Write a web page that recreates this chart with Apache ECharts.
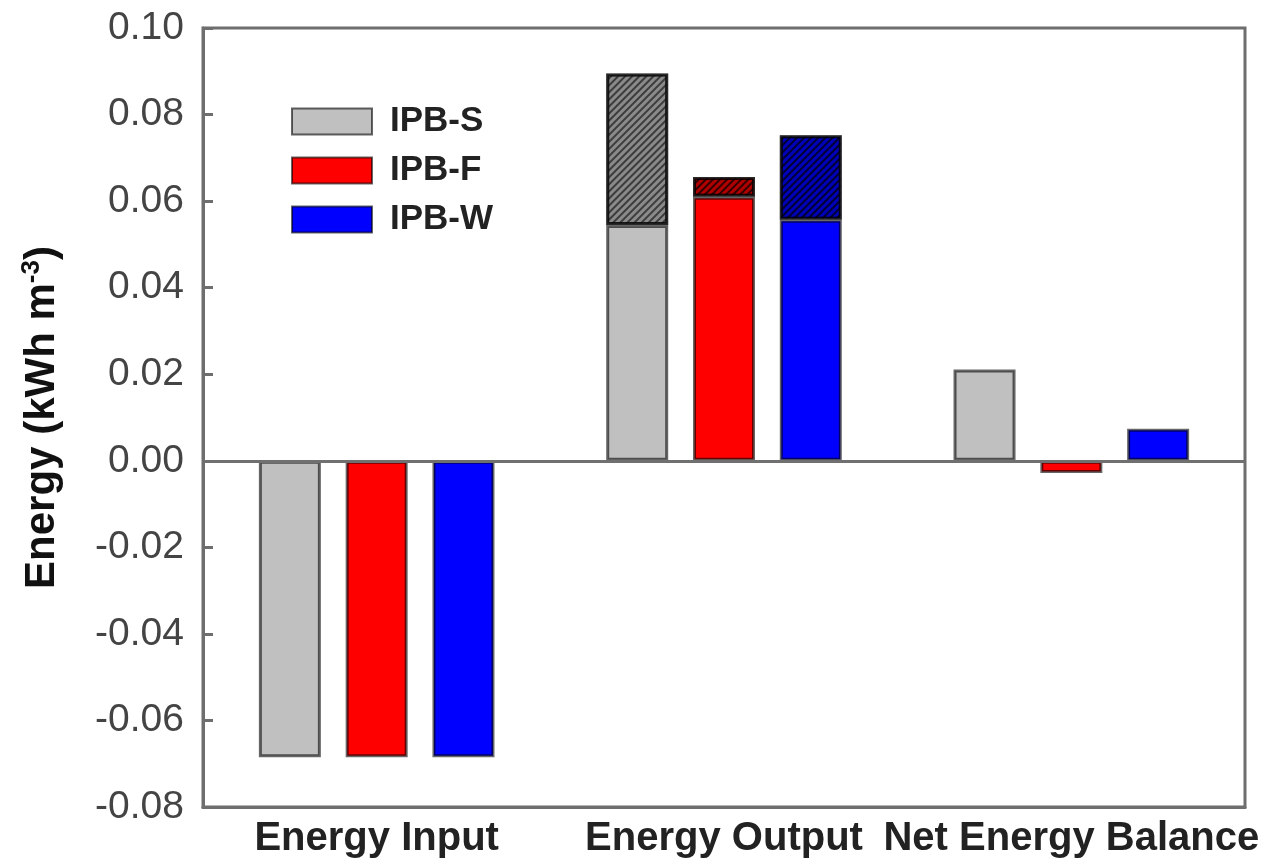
<!DOCTYPE html>
<html>
<head>
<meta charset="utf-8">
<script src="https://cdn.jsdelivr.net/npm/echarts@6/dist/echarts.min.js"></script>
<style>
  html, body { margin: 0; padding: 0; background: #fff; }
  #chart { width: 1272px; height: 867px; }
</style>
</head>
<body>
<div id="chart"></div>
<script>
// categories and values (kWh m-3)
const categories = ['Energy Input', 'Energy Output', 'Net Energy Balance'];
const seriesNames = ['IPB-S', 'IPB-F', 'IPB-W'];
const solidS = [-0.0685, 0.0545, 0.0211];
const hatchS = [null, 0.0350, null];
const solidF = [-0.0685, 0.0610, -0.0028];
const hatchF = [null, 0.0046, null];
const solidW = [-0.0685, 0.0557, 0.0074];
const hatchW = [null, 0.0195, null];
const yTicks = { min: -0.08, max: 0.10, step: 0.02 };

const FONT = '"Liberation Sans", Arial, sans-serif';
const EDGE = 'rgba(0,0,0,0.6)';
const BAR_W = 62;

function hatch(lineColor) {
  return {
    symbol: 'rect',
    dashArrayX: [1, 0],
    dashArrayY: [2, 2.5],
    rotation: -Math.PI / 4,
    color: lineColor,
    symbolSize: 1
  };
}

function solidBar(name, stack, color, data) {
  return {
    name: name,
    type: 'bar',
    stack: stack,
    barWidth: BAR_W,
    barGap: '40%',
    itemStyle: { color: color, borderColor: EDGE, borderWidth: 3 },
    data: data
  };
}

function hatchBar(name, stack, color, lineColor, data) {
  return {
    name: name,
    type: 'bar',
    stack: stack,
    barWidth: BAR_W,
    barGap: '40%',
    itemStyle: { color: color, borderColor: EDGE, borderWidth: 3, decal: hatch(lineColor) },
    data: data
  };
}

const chart = echarts.init(document.getElementById('chart'));
const sBar = solidBar(seriesNames[0], 'S', '#c0c0c0', solidS);
sBar.markLine = {
  silent: true,
  symbol: ['none', 'none'],
  label: { show: false },
  lineStyle: { color: '#707070', width: 3, type: 'solid' },
  data: [{ yAxis: 0 }]
};

chart.setOption({
  animation: false,
  aria: { enabled: false },
  grid: {
    left: 203, right: 27, top: 28, bottom: 60,
    show: true, borderColor: '#6e6e6e', borderWidth: 3,
    containLabel: false, outerBoundsMode: 'none'
  },
  legend: {
    data: seriesNames,
    orient: 'vertical',
    left: 286, top: 99,
    itemWidth: 80, itemHeight: 26, itemGap: 14,
    icon: 'rect',
    textStyle: { fontFamily: FONT, fontSize: 35, fontWeight: 'bold', color: '#222', lineHeight: 34, padding: [0, 0, 0, 13] }
  },
  xAxis: {
    type: 'category',
    data: categories,
    axisLine: { onZero: false, lineStyle: { color: '#6e6e6e', width: 3 } },
    axisTick: { show: false },
    axisLabel: { fontFamily: FONT, fontSize: 40, fontWeight: 'bold', color: '#222', margin: 12, interval: 0 }
  },
  yAxis: {
    type: 'value',
    min: yTicks.min, max: yTicks.max, interval: yTicks.step,
    name: '{a|Energy (kWh m}{s|-3}{a|)}',
    nameLocation: 'middle',
    nameGap: 140,
    nameRotate: 90,
    nameTextStyle: {
      rich: {
        a: { fontFamily: FONT, fontSize: 42, fontWeight: 'bold', color: '#111', lineHeight: 44, verticalAlign: 'bottom' },
        s: { fontFamily: FONT, fontSize: 26, fontWeight: 'bold', color: '#111', lineHeight: 44, verticalAlign: 'top' }
      }
    },
    splitLine: { show: false },
    axisLine: { show: true, lineStyle: { color: '#6e6e6e', width: 3 } },
    axisTick: { show: true, inside: true, length: 10, lineStyle: { color: '#6e6e6e', width: 3 } },
    axisLabel: {
      fontFamily: FONT, fontSize: 39, color: '#444', margin: 19,
      formatter: v => v.toFixed(2)
    }
  },
  series: [
    sBar,
    hatchBar('S-hatch', 'S', '#8a8a8a', 'rgba(40,40,40,0.8)', hatchS),
    solidBar(seriesNames[1], 'F', '#ff0000', solidF),
    hatchBar('F-hatch', 'F', '#b00000', 'rgba(30,0,0,0.85)', hatchF),
    solidBar(seriesNames[2], 'W', '#0000ff', solidW),
    hatchBar('W-hatch', 'W', '#0000b8', 'rgba(0,0,30,0.85)', hatchW)
  ]
});
</script>
</body>
</html>
